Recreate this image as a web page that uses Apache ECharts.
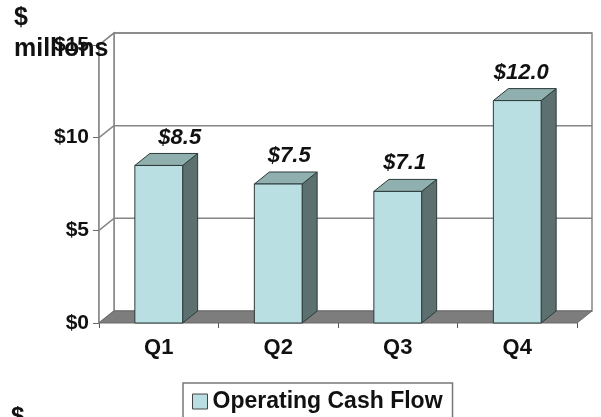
<!DOCTYPE html>
<html>
<head>
<meta charset="utf-8">
<script src="https://cdn.jsdelivr.net/npm/echarts@6/dist/echarts.min.js"></script>
<style>
html,body{margin:0;padding:0;background:#fff;}
#chart{width:601px;height:417px;}
</style>
</head>
<body>
<div id="chart"></div>
<script>
// ---- data ----
const categories = ['Q1', 'Q2', 'Q3', 'Q4'];
const cashFlow = [8.5, 7.5, 7.1, 12.0];
const seriesName = 'Operating Cash Flow';
const yTickValues = [5, 10, 15];

// ---- layout/style constants ----
const DX = 15, DY = -12;            // depth offset for pseudo-3D
const labelShift = [21, 11, 7, 4];  // label horizontal shift per bar (perspective)
const FONT = '"Liberation Sans", Arial, Helvetica, sans-serif';
const FRONT = '#b9dfe2', TOP = '#90afaf', SIDE = '#5c7070', EDGE = '#2c3a3a';

const chart = echarts.init(document.getElementById('chart'), null, {renderer: 'canvas'});

function frameItem(params, api) {
  const cs = params.coordSys;
  const L = cs.x, R = cs.x + cs.width, T = cs.y, B = cs.y + cs.height;
  const grey = '#858585';
  const children = [];
  children.push({type: 'rect', shape: {x: L + DX, y: T + DY, width: R - L, height: B - T},
    style: {fill: '#fff', stroke: grey, lineWidth: 1.5}});
  children.push({type: 'polygon', shape: {points: [[L, T], [L + DX, T + DY], [L + DX, B + DY], [L, B]]},
    style: {fill: '#fff', stroke: grey, lineWidth: 1.5}});
  yTickValues.forEach(function (v) {
    const y = api.coord([0, v])[1];
    children.push({type: 'line', shape: {x1: L + DX, y1: y + DY, x2: R + DX, y2: y + DY},
      style: {stroke: grey, lineWidth: 1.5}});
    children.push({type: 'line', shape: {x1: L, y1: y, x2: L + DX, y2: y + DY},
      style: {stroke: grey, lineWidth: 1.5}});
  });
  children.push({type: 'polygon', shape: {points: [[L, B], [R, B], [R + DX, B + DY], [L + DX, B + DY]]},
    style: {fill: '#7d7d7d', stroke: '#6a6a6a', lineWidth: 1}});
  return {type: 'group', children: children};
}

function barItem(params, api) {
  const i = api.value(0), v = api.value(1);
  const top = api.coord([i, v]);
  const bot = api.coord([i, 0]);
  const w = api.size([1, 0])[0] * 0.4;
  const x0 = top[0] - w / 2, x1 = top[0] + w / 2;
  const yT = top[1], yB = bot[1];
  return {
    type: 'group',
    children: [
      {type: 'polygon', shape: {points: [[x1, yT], [x1 + DX, yT + DY], [x1 + DX, yB + DY], [x1, yB]]},
        style: {fill: SIDE, stroke: EDGE, lineWidth: 1}},
      {type: 'polygon', shape: {points: [[x0, yT], [x1, yT], [x1 + DX, yT + DY], [x0 + DX, yT + DY]]},
        style: {fill: TOP, stroke: EDGE, lineWidth: 1}},
      {type: 'rect', shape: {x: x0, y: yT, width: w, height: yB - yT},
        style: {fill: FRONT, stroke: EDGE, lineWidth: 1}},
      {type: 'text', style: {text: '$' + v.toFixed(1), x: top[0] + labelShift[i], y: yT - 28,
        align: 'center', verticalAlign: 'middle', fill: '#111',
        font: 'italic bold 22px ' + FONT}}
    ]
  };
}

const option = {
  animation: false,
  backgroundColor: '#fff',
  grid: {left: 99, right: 24, top: 45, bottom: 94},
  xAxis: {
    type: 'category',
    data: categories,
    axisLine: {show: false},
    axisTick: {show: true, length: 5, lineStyle: {color: '#555'}},
    axisLabel: {fontSize: 22, fontWeight: 'bold', color: '#111', fontFamily: FONT, margin: 14},
    splitLine: {show: false}
  },
  yAxis: {
    type: 'value',
    min: 0, max: 15, interval: 5,
    axisLine: {show: true, lineStyle: {color: '#858585', width: 1.5}},
    axisTick: {show: true, length: 6, lineStyle: {color: '#666'}},
    axisLabel: {fontSize: 21, fontWeight: 'bold', color: '#111', fontFamily: FONT, margin: 10,
      formatter: function (v) { return '$' + v; }},
    splitLine: {show: false}
  },
  legend: {
    data: [seriesName],
    left: 183, top: 383,
    padding: [7, 10, 20, 9],
    borderColor: '#777', borderWidth: 1.5,
    icon: 'rect', itemWidth: 15, itemHeight: 15, itemGap: 8,
    itemStyle: {color: FRONT, borderColor: '#444', borderWidth: 1},
    textStyle: {fontSize: 23, fontWeight: 'bold', color: '#111', fontFamily: FONT}
  },
  graphic: [
    {type: 'text', left: 14, top: 3, z: 100,
      style: {text: '$\nmillions', font: 'bold 25px ' + FONT, lineHeight: 31, fill: '#111'}},
    {type: 'text', left: 11, top: 405, z: 100,
      style: {text: '$', font: 'bold 24px ' + FONT, fill: '#111'}}
  ],
  series: [
    {type: 'custom', name: 'frame', silent: true, z: 1, renderItem: frameItem, data: [[0, 0]]},
    {type: 'custom', name: seriesName, z: 2, renderItem: barItem,
      itemStyle: {color: FRONT},
      data: cashFlow.map(function (v, i) { return [i, v]; })}
  ]
};
chart.setOption(option);
</script>
</body>
</html>
